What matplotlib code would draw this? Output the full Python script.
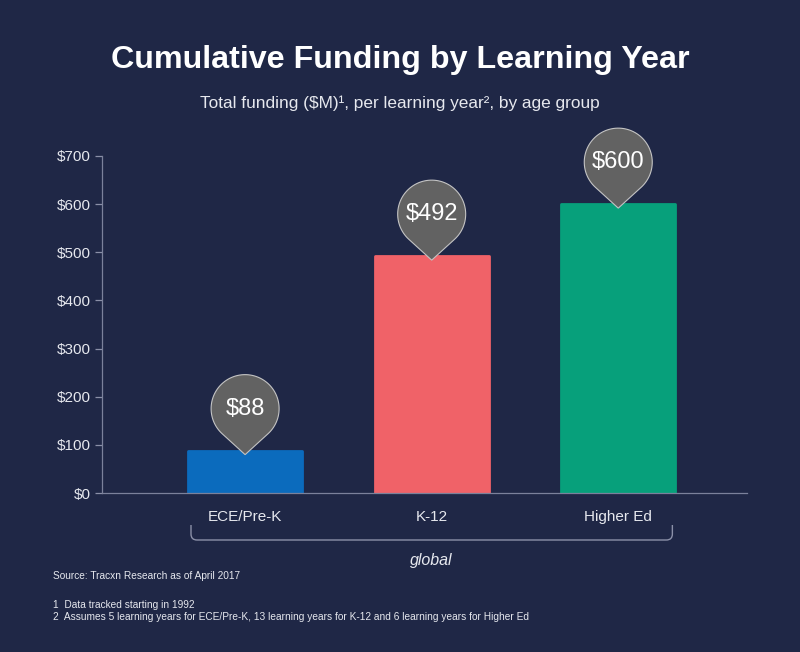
import numpy as np
import matplotlib
matplotlib.use('Agg')
import matplotlib.pyplot as plt
from matplotlib.path import Path
from matplotlib.patches import PathPatch
import matplotlib.transforms as mtransforms

categories = ['ECE/Pre-K', 'K-12', 'Higher Ed']
values = [88, 492, 600]
value_labels = ['$88', '$492', '$600']
yticks = [0, 100, 200, 300, 400, 500, 600, 700]
ytick_labels = ['$0', '$100', '$200', '$300', '$400', '$500', '$600', '$700']
colors = ['#0b6bbd', '#f06268', '#07a07b']

plt.rcParams['text.parse_math'] = False
plt.rcParams['font.family'] = ['Liberation Sans', 'DejaVu Sans']

BG = '#1f2746'
AXC = '#7b819b'
TXT = '#e6e8ee'
DPI = 100

fig = plt.figure(figsize=(8, 6.52), dpi=DPI, facecolor=BG)
ax = fig.add_axes([102/800, 1-493/652, (747-102)/800, (493-156)/652])
ax.set_facecolor(BG)

x = np.arange(len(categories))
ax.bar(x, values, width=0.61, color=colors, edgecolor=colors, linewidth=2,
       joinstyle='round', zorder=2)

ax.set_xlim(-0.767, 2.69)
ax.set_ylim(0, 700)
ax.set_yticks(yticks)
ax.set_yticklabels(ytick_labels)
ax.set_xticks(x)
ax.set_xticklabels(categories)

for s in ['top', 'right']:
    ax.spines[s].set_visible(False)
for s in ['left', 'bottom']:
    ax.spines[s].set_color(AXC)
    ax.spines[s].set_linewidth(0.9)
    ax.spines[s].set_zorder(3)
ax.tick_params(axis='y', direction='out', length=5, width=0.9, color='#8b90a8',
               labelcolor=TXT, labelsize=11, pad=3)
ax.tick_params(axis='x', length=0, labelcolor=TXT, labelsize=11, pad=12)

# pins
r, d = 34.0, 46.0
alpha = np.degrees(np.arccos(r / d))
th = np.radians(np.linspace(-90 + alpha, 270 - alpha, 80))
arc = np.column_stack([r * np.cos(th), d + r * np.sin(th)])
verts = np.vstack([[0, 0], arc, [0, 0]])
codes = [Path.MOVETO] + [Path.LINETO] * len(arc) + [Path.CLOSEPOLY]
pin_path = Path(verts, codes)
shift = -4
for xi, v, lab in zip(x, values, value_labels):
    tr = (mtransforms.Affine2D().translate(0, shift).scale(fig.dpi / DPI)
          + mtransforms.ScaledTranslation(xi, v, ax.transData))
    patch = PathPatch(pin_path, facecolor='#626262', edgecolor='#c4c4c4',
                      linewidth=0.8, transform=tr, clip_on=False, zorder=4)
    ax.add_artist(patch)
    ax.annotate(lab, xy=(xi, v), xytext=(0, (d + shift) * 72 / DPI),
                textcoords='offset points', ha='center', va='center',
                fontsize=17, color='white', zorder=5, annotation_clip=False)

# bracket under categories
x0 = ax.transData.transform((-0.29, 0))[0]
x1 = ax.transData.transform((2.29, 0))[0]
ytop = 652 - 525
ybot = 652 - 540
rc = 6
bverts = [(x0, ytop), (x0, ybot + rc), (x0, ybot), (x0 + rc, ybot),
          (x1 - rc, ybot), (x1, ybot), (x1, ybot + rc), (x1, ytop)]
bcodes = [Path.MOVETO, Path.LINETO, Path.CURVE3, Path.CURVE3,
          Path.LINETO, Path.CURVE3, Path.CURVE3, Path.LINETO]
bracket = PathPatch(Path(bverts, bcodes), facecolor='none', edgecolor='#8b90a8',
                    linewidth=1.0, transform=mtransforms.IdentityTransform())
fig.add_artist(bracket)

trans = mtransforms.blended_transform_factory(ax.transData, ax.transAxes)
ax.text(1, (493 - 561) / 337, 'global', transform=trans, ha='center', va='center',
        fontsize=11.5, style='italic', color=TXT)

fig.text(0.5, 1 - 60/652, 'Cumulative Funding by Learning Year', ha='center',
         va='center', fontsize=23.2, weight='bold', color='white')
fig.text(0.5, 1 - 103/652, 'Total funding ($M)¹, per learning year², by age group',
         ha='center', va='center', fontsize=12.4, color=TXT)

fig.text(53/800, 1 - 576/652, 'Source: Tracxn Research as of April 2017',
         ha='left', va='center', fontsize=7.3, color=TXT)
fig.text(53/800, 1 - 605/652, '1  Data tracked starting in 1992',
         ha='left', va='center', fontsize=7.3, color=TXT)
fig.text(53/800, 1 - 617/652,
         '2  Assumes 5 learning years for ECE/Pre-K, 13 learning years for K-12 and 6 learning years for Higher Ed',
         ha='left', va='center', fontsize=7.3, color=TXT)

fig.savefig('out.png', dpi=DPI, facecolor=BG)
